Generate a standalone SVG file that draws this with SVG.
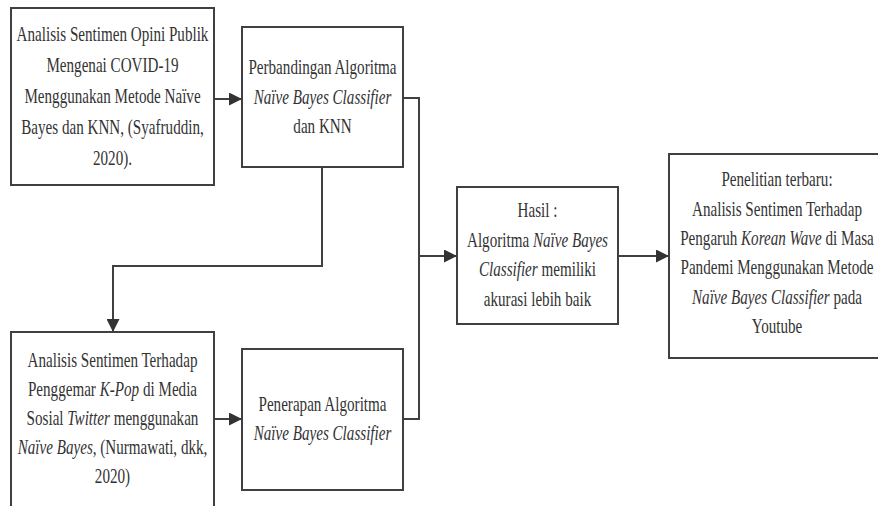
<svg xmlns="http://www.w3.org/2000/svg" width="878" height="506" viewBox="0 0 878 506">
<defs>
<style>
.box{fill:#fff;stroke:#404040;stroke-width:2}
.ln{fill:none;stroke:#404040;stroke-width:2}
.t text{font-size:20px;fill:#333;text-anchor:middle}
.i{font-style:italic}
</style>
<marker id="ah" markerUnits="userSpaceOnUse" markerWidth="13" markerHeight="13" refX="13" refY="6.5" orient="auto">
<path d="M0,0 L13,6.5 L0,13 z" fill="#333"/>
</marker>
</defs>
<rect width="878" height="506" fill="#fff"/>
<g id="connectors">
<path class="ln" d="M214,99 H242" marker-end="url(#ah)"/>
<path class="ln" d="M214,419 H242" marker-end="url(#ah)"/>
<path class="ln" d="M403,98 H419 V419 H403"/>
<path class="ln" d="M419,256 H457" marker-end="url(#ah)"/>
<path class="ln" d="M322,167 V266 H113 V332" marker-end="url(#ah)"/>
<path class="ln" d="M618,256 H669" marker-end="url(#ah)"/>
</g>
<g id="nodeA">
<rect class="box" x="11" y="8" width="203" height="177"/>
<g class="t" font-family="Liberation Serif, serif" transform="matrix(0.756 0 0 1 27.45 0)">
<text x="112.5" y="41.5">Analisis Sentimen Opini Publik</text>
<text x="112.5" y="72.5">Mengenai COVID-19</text>
<text x="112.5" y="103.5">Menggunakan Metode Naïve</text>
<text x="112.5" y="134.5">Bayes dan KNN, (Syafruddin,</text>
<text x="112.5" y="165.5">2020).</text>
</g>
</g>
<g id="nodeB">
<rect class="box" x="242" y="27" width="161" height="140"/>
<g class="t" font-family="Liberation Serif, serif" transform="matrix(0.756 0 0 1 78.69 0)">
<text x="322.5" y="74.5">Perbandingan Algoritma</text>
<text x="322.5" y="104" class="i">Naïve Bayes Classifier</text>
<text x="322.5" y="133.5">dan KNN</text>
</g>
</g>
<g id="nodeC">
<rect class="box" x="11" y="332" width="203" height="180"/>
<g class="t" font-family="Liberation Serif, serif" transform="matrix(0.756 0 0 1 27.45 0)">
<text x="112.5" y="367.5">Analisis Sentimen Terhadap</text>
<text x="112.5" y="396.5">Penggemar <tspan class="i">K-Pop</tspan> di Media</text>
<text x="112.5" y="425.5">Sosial <tspan class="i">Twitter</tspan> menggunakan</text>
<text x="112.5" y="454.5"><tspan class="i">Naïve Bayes,</tspan> (Nurmawati, dkk,</text>
<text x="112.5" y="483.5">2020)</text>
</g>
</g>
<g id="nodeD">
<rect class="box" x="242" y="349" width="161" height="141"/>
<g class="t" font-family="Liberation Serif, serif" transform="matrix(0.756 0 0 1 78.69 0)">
<text x="322.5" y="411.5">Penerapan Algoritma</text>
<text x="322.5" y="440.5" class="i">Naïve Bayes Classifier</text>
</g>
</g>
<g id="nodeHasil">
<rect class="box" x="457" y="187" width="161" height="137"/>
<g class="t" font-family="Liberation Serif, serif" transform="matrix(0.756 0 0 1 131.15 0)">
<text x="537.5" y="217.5">Hasil :</text>
<text x="537.5" y="247.5">Algoritma <tspan class="i">Naïve Bayes</tspan></text>
<text x="537.5" y="276.5"><tspan class="i">Classifier</tspan> memiliki</text>
<text x="537.5" y="306.5">akurasi lebih baik</text>
</g>
</g>
<g id="nodeE">
<rect class="box" x="669" y="154" width="220" height="204"/>
<g class="t" font-family="Liberation Serif, serif" transform="matrix(0.756 0 0 1 189.59 0)">
<text x="777" y="186.5">Penelitian terbaru:</text>
<text x="777" y="216">Analisis Sentimen Terhadap</text>
<text x="777" y="245.5">Pengaruh <tspan class="i">Korean Wave</tspan> di Masa</text>
<text x="777" y="274.5">Pandemi Menggunakan Metode</text>
<text x="777" y="304"><tspan class="i">Naïve Bayes Classifier</tspan> pada</text>
<text x="777" y="333.5">Youtube</text>
</g>
</g>
</svg>
